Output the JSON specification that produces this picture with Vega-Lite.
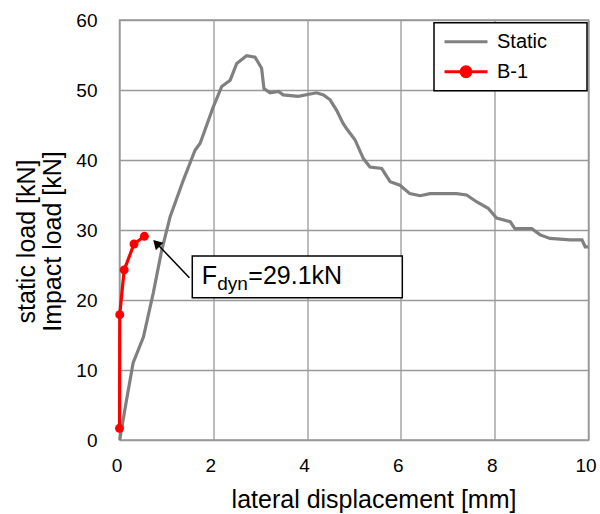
{
  "$schema": "https://vega.github.io/schema/vega-lite/v6.json",
  "width": 469,
  "height": 420,
  "autosize": {"type": "none"},
  "padding": {"left": 119.5, "top": 20, "right": 11.5, "bottom": 74},
  "background": "white",
  "config": {
    "font": "Liberation Sans",
    "view": {"stroke": "#999999", "strokeWidth": 1.5},
    "axis": {
      "grid": true, "gridColor": "#999999", "gridWidth": 1.3,
      "domain": false, "ticks": false, "tickSize": 0,
      "labelFont": "Liberation Sans", "labelFontSize": 19, "labelColor": "#000000",
      "titleFont": "Liberation Sans", "titleFontSize": 25, "titleFontWeight": "normal", "titleColor": "#000000"
    },
    "legend": {"strokeWidth": 1.5}
  },
  "datasets": {
    "curves": [
      {"series": "Static", "x": 0, "y": 0},
      {"series": "Static", "x": 0.01, "y": 0.24},
      {"series": "Static", "x": 0.15, "y": 5.7},
      {"series": "Static", "x": 0.29, "y": 11.0},
      {"series": "Static", "x": 0.51, "y": 14.7},
      {"series": "Static", "x": 0.72, "y": 21.0},
      {"series": "Static", "x": 0.90, "y": 27.1},
      {"series": "Static", "x": 1.08, "y": 31.9},
      {"series": "Static", "x": 1.36, "y": 37.1},
      {"series": "Static", "x": 1.61, "y": 41.4},
      {"series": "Static", "x": 1.72, "y": 42.4},
      {"series": "Static", "x": 2.0, "y": 47.6},
      {"series": "Static", "x": 2.18, "y": 50.5},
      {"series": "Static", "x": 2.36, "y": 51.4},
      {"series": "Static", "x": 2.50, "y": 53.8},
      {"series": "Static", "x": 2.71, "y": 54.9},
      {"series": "Static", "x": 2.89, "y": 54.7},
      {"series": "Static", "x": 3.03, "y": 53.1},
      {"series": "Static", "x": 3.08, "y": 50.2},
      {"series": "Static", "x": 3.21, "y": 49.6},
      {"series": "Static", "x": 3.39, "y": 49.8},
      {"series": "Static", "x": 3.49, "y": 49.3},
      {"series": "Static", "x": 3.81, "y": 49.1},
      {"series": "Static", "x": 4.20, "y": 49.6},
      {"series": "Static", "x": 4.35, "y": 49.3},
      {"series": "Static", "x": 4.49, "y": 48.6},
      {"series": "Static", "x": 4.63, "y": 47.1},
      {"series": "Static", "x": 4.77, "y": 45.2},
      {"series": "Static", "x": 4.84, "y": 44.5},
      {"series": "Static", "x": 5.02, "y": 42.9},
      {"series": "Static", "x": 5.20, "y": 40.2},
      {"series": "Static", "x": 5.34, "y": 39.0},
      {"series": "Static", "x": 5.59, "y": 38.8},
      {"series": "Static", "x": 5.77, "y": 36.9},
      {"series": "Static", "x": 5.98, "y": 36.4},
      {"series": "Static", "x": 6.19, "y": 35.2},
      {"series": "Static", "x": 6.41, "y": 34.9},
      {"series": "Static", "x": 6.62, "y": 35.2},
      {"series": "Static", "x": 7.19, "y": 35.2},
      {"series": "Static", "x": 7.40, "y": 35.0},
      {"series": "Static", "x": 7.62, "y": 34.0},
      {"series": "Static", "x": 7.86, "y": 33.1},
      {"series": "Static", "x": 8.04, "y": 31.7},
      {"series": "Static", "x": 8.33, "y": 31.2},
      {"series": "Static", "x": 8.43, "y": 30.2},
      {"series": "Static", "x": 8.79, "y": 30.2},
      {"series": "Static", "x": 8.97, "y": 29.3},
      {"series": "Static", "x": 9.18, "y": 28.8},
      {"series": "Static", "x": 9.61, "y": 28.6},
      {"series": "Static", "x": 9.86, "y": 28.6},
      {"series": "Static", "x": 9.93, "y": 27.6},
      {"series": "Static", "x": 9.99, "y": 27.6},
      {"series": "B-1", "x": 0, "y": 1.67},
      {"series": "B-1", "x": 0.005, "y": 17.9},
      {"series": "B-1", "x": 0.10, "y": 24.3},
      {"series": "B-1", "x": 0.31, "y": 28.0},
      {"series": "B-1", "x": 0.53, "y": 29.1}
    ],
    "arrow": [{"x": 1.49, "y": 23.19, "x2": 0.79, "y2": 28.1}],
    "head": [{"x": 0.787, "y": 28.11}],
    "box": [{"x": 1.552, "x2": 6.03, "y": 20.33, "y2": 26.29}],
    "labels": [
      {"part": "F", "text": "F", "x": 1.753, "y": 22.24},
      {"part": "sub", "text": "dyn", "x": 2.085, "y": 21.43},
      {"part": "rest", "text": "=29.1kN", "x": 2.746, "y": 22.24}
    ]
  },
  "layer": [
    {
      "data": {"name": "curves"},
      "mark": {"type": "line", "strokeWidth": 3.2},
      "encoding": {
        "x": {"field": "x", "type": "quantitative", "scale": {"domain": [0, 10], "nice": false},
          "axis": {"values": [0, 2, 4, 6, 8, 10], "title": "lateral displacement [mm]",
            "labelBaseline": "alphabetic", "labelPadding": 31, "labelOffset": -3, "labelFlush": false,
            "titleX": 254, "titleY": 67.5, "titleBaseline": "alphabetic"}},
        "y": {"field": "y", "type": "quantitative", "scale": {"domain": [0, 60], "nice": false},
          "axis": {"values": [0, 10, 20, 30, 40, 50, 60], "title": ["static load [kN]", "Impact load [kN]"],
            "labelPadding": 22.5, "titleX": -93, "titleY": 221, "titleBaseline": "middle", "titleLineHeight": 26, "titleAlign": "center"}},
        "color": {"field": "series", "type": "nominal",
          "scale": {"domain": ["Static", "B-1"], "range": ["#808080", "#ff0000"]},
          "legend": {
            "title": null, "orient": "none", "legendX": 314.5, "legendY": 2.7, "direction": "vertical",
            "symbolSize": 1849, "symbolStrokeWidth": 3, "clipHeight": 20, "rowPadding": 10,
            "labelFontSize": 20, "labelFont": "Liberation Sans", "labelColor": "#000000", "labelOffset": 8,
            "padding": 9, "strokeColor": "#000000", "fillColor": "#ffffff",
            "encode": {
              "labels": {"update": {
                "text": {"signal": "datum.label + '\u2800\u2800'"}
              }},
              "symbols": {"update": {
                "shape": {"signal": "datum.value === 'B-1' ? 'M-1,0L1,0M0.23,0A0.23,0.23,0,1,1,-0.23,0A0.23,0.23,0,1,1,0.23,0Z' : 'M-1,0L1,0'"},
                "fill": {"signal": "datum.value === 'B-1' ? '#ff0000' : 'transparent'"},
                "strokeWidth": {"value": 3},
                "opacity": {"value": 1}
              }}
            }
          }},
        "order": {"field": "x", "type": "quantitative"}
      }
    },
    {
      "data": {"name": "curves"},
      "transform": [{"filter": "datum.series === 'B-1'"}],
      "mark": {"type": "point", "filled": true, "size": 80, "color": "#ff0000", "opacity": 1},
      "encoding": {
        "x": {"field": "x", "type": "quantitative"},
        "y": {"field": "y", "type": "quantitative"}
      }
    },
    {
      "data": {"name": "arrow"},
      "mark": {"type": "rule", "color": "#000000", "strokeWidth": 1.5},
      "encoding": {
        "x": {"field": "x", "type": "quantitative"},
        "y": {"field": "y", "type": "quantitative"},
        "x2": {"field": "x2"},
        "y2": {"field": "y2"}
      }
    },
    {
      "data": {"name": "head"},
      "mark": {"type": "point", "shape": "triangle-up", "filled": true, "size": 110, "angle": 316, "color": "#000000", "opacity": 1},
      "encoding": {
        "x": {"field": "x", "type": "quantitative"},
        "y": {"field": "y", "type": "quantitative"}
      }
    },
    {
      "data": {"name": "box"},
      "mark": {"type": "rect", "fill": "#ffffff", "stroke": "#000000", "strokeWidth": 1.5},
      "encoding": {
        "x": {"field": "x", "type": "quantitative"},
        "x2": {"field": "x2"},
        "y": {"field": "y", "type": "quantitative"},
        "y2": {"field": "y2"}
      }
    },
    {
      "data": {"name": "labels"},
      "transform": [{"filter": "datum.part !== 'sub'"}],
      "mark": {"type": "text", "align": "left", "baseline": "alphabetic", "fontSize": 25, "font": "Liberation Sans", "color": "#000000"},
      "encoding": {
        "x": {"field": "x", "type": "quantitative"},
        "y": {"field": "y", "type": "quantitative"},
        "text": {"field": "text"}
      }
    },
    {
      "data": {"name": "labels"},
      "transform": [{"filter": "datum.part === 'sub'"}],
      "mark": {"type": "text", "align": "left", "baseline": "alphabetic", "fontSize": 19, "font": "Liberation Sans", "color": "#000000"},
      "encoding": {
        "x": {"field": "x", "type": "quantitative"},
        "y": {"field": "y", "type": "quantitative"},
        "text": {"field": "text"}
      }
    }
  ]
}
